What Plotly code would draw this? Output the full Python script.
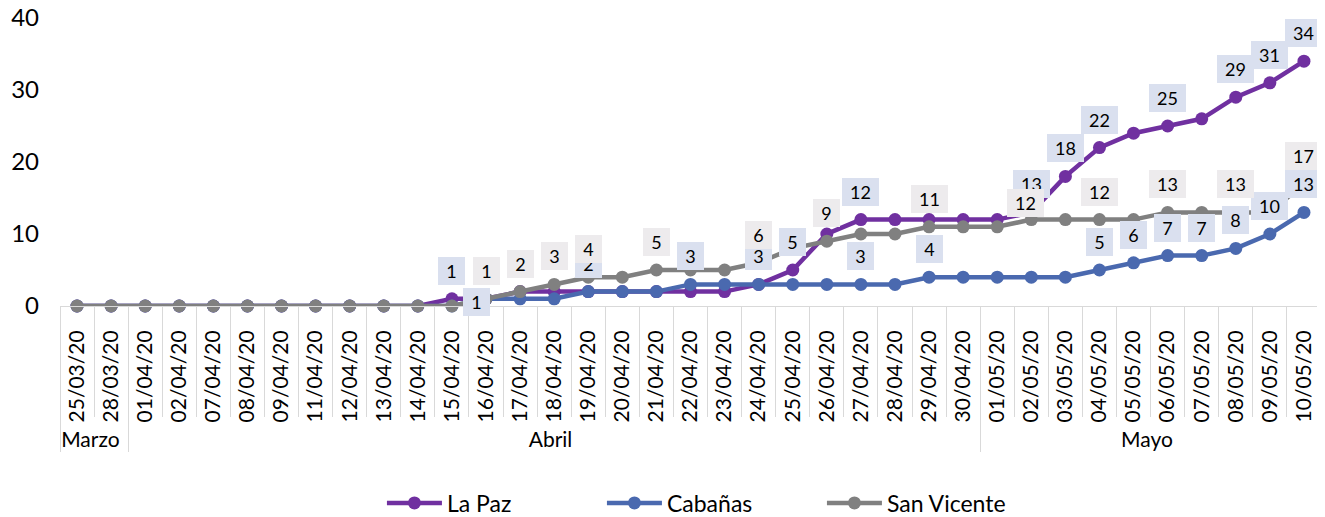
import plotly.graph_objects as go

# fechas (eje x) y casos acumulados por municipio
dates = ["25/03/20", "28/03/20", "01/04/20", "02/04/20", "07/04/20", "08/04/20",
         "09/04/20", "11/04/20", "12/04/20", "13/04/20", "14/04/20", "15/04/20",
         "16/04/20", "17/04/20", "18/04/20", "19/04/20", "20/04/20", "21/04/20",
         "22/04/20", "23/04/20", "24/04/20", "25/04/20", "26/04/20", "27/04/20",
         "28/04/20", "29/04/20", "30/04/20", "01/05/20", "02/05/20", "03/05/20",
         "04/05/20", "05/05/20", "06/05/20", "07/05/20", "08/05/20", "09/05/20",
         "10/05/20"]
month_names = {"03": "Marzo", "04": "Abril", "05": "Mayo"}

la_paz = [0, 0, 0, 0, 0, 0, 0, 0, 0, 0, 0, 1, 1, 2, 2, 2, 2, 2, 2, 2, 3, 5, 10, 12,
          12, 12, 12, 12, 13, 18, 22, 24, 25, 26, 29, 31, 34]
cabanas = [0, 0, 0, 0, 0, 0, 0, 0, 0, 0, 0, 0, 1, 1, 1, 2, 2, 2, 3, 3, 3, 3, 3, 3,
           3, 4, 4, 4, 4, 4, 5, 6, 7, 7, 8, 10, 13]
san_vicente = [0, 0, 0, 0, 0, 0, 0, 0, 0, 0, 0, 0, 1, 2, 3, 4, 4, 5, 5, 5, 6, 8, 9, 10,
               10, 11, 11, 11, 12, 12, 12, 12, 13, 13, 13, 13, 17]

# fechas con etiqueta de datos visible
la_paz_labels = ["15/04/20", "24/04/20", "25/04/20", "27/04/20", "02/05/20", "03/05/20",
                 "04/05/20", "06/05/20", "08/05/20", "09/05/20", "10/05/20"]
cabanas_labels = ["16/04/20", "19/04/20", "22/04/20", "27/04/20", "29/04/20", "04/05/20",
                  "05/05/20", "06/05/20", "07/05/20", "08/05/20", "09/05/20", "10/05/20"]
san_vicente_labels = ["16/04/20", "17/04/20", "18/04/20", "19/04/20", "21/04/20", "24/04/20",
                      "26/04/20", "29/04/20", "02/05/20", "04/05/20", "06/05/20", "08/05/20",
                      "10/05/20"]

months = [month_names[d[3:5]] for d in dates]
FONT = "Lato"

series = [
    ("La Paz", la_paz, "#7030A0", la_paz_labels, "#DAE0EF"),
    ("Cabañas", cabanas, "#4A69AF", cabanas_labels, "#DAE0EF"),
    ("San Vicente", san_vicente, "#808080", san_vicente_labels, "#EDEBED"),
]
# etiquetas movidas a mano en el original
label_shift = {("Cabañas", "16/04/20"): (-10, -3), ("San Vicente", "02/05/20"): (-6, 17)}

fig = go.Figure()
annotations = []
for name, vals, color, lab_dates, box in series:
    fig.add_trace(go.Scatter(
        x=[months, dates], y=vals, name=name, mode="lines+markers",
        line=dict(color=color, width=4.5), marker=dict(color=color, size=13),
        cliponaxis=False,
    ))
    for d in lab_dates:
        i = dates.index(d)
        dx, dy = label_shift.get((name, d), (0, 28))
        txt = str(vals[i])
        annotations.append(dict(
            x=i, y=vals[i], xref="x2", yref="y", text=txt, showarrow=False,
            xshift=dx, yshift=dy, bgcolor=box, borderpad=3, borderwidth=0,
            width=10 * len(txt) + 11, font=dict(family=FONT, size=18, color="#000"),
        ))

# la página añade 8px de margen al body: la figura se reduce para compensar
xrange = [-0.5, len(dates) - 0.5]
fig.update_layout(
    width=1317, height=509,
    margin=dict(l=52, r=4, t=10, b=211, autoexpand=False),
    paper_bgcolor="white", plot_bgcolor="white",
    font=dict(family=FONT, color="#000"),
    showlegend=True,
    legend=dict(orientation="h", x=0.517, xanchor="center", y=-0.684, yanchor="middle",
                font=dict(size=23), entrywidth=150, itemwidth=55),
    annotations=annotations,
    xaxis=dict(type="multicategory", range=xrange, autorange=False, automargin=False,
               showgrid=False, showline=True, linecolor="#D9D9D9",
               tickangle=-90, tickfont=dict(size=21), ticks="", ticklabelstandoff=15,
               showdividers=True, dividercolor="#D9D9D9", dividerwidth=1),
    xaxis2=dict(overlaying="x", anchor="y", side="bottom", type="linear",
                range=xrange, autorange=False, automargin=False, tick0=-0.5, dtick=1,
                showticklabels=False, ticks="outside", ticklen=110, tickcolor="#D9D9D9",
                showgrid=False, zeroline=False, showline=False),
    yaxis=dict(range=[0, 40], dtick=10, showgrid=False, zeroline=False, showline=False,
               automargin=False, tickfont=dict(size=24), ticklabelstandoff=20,
               ticklabeloverflow="allow"),
)

fig.write_html("out.html")
